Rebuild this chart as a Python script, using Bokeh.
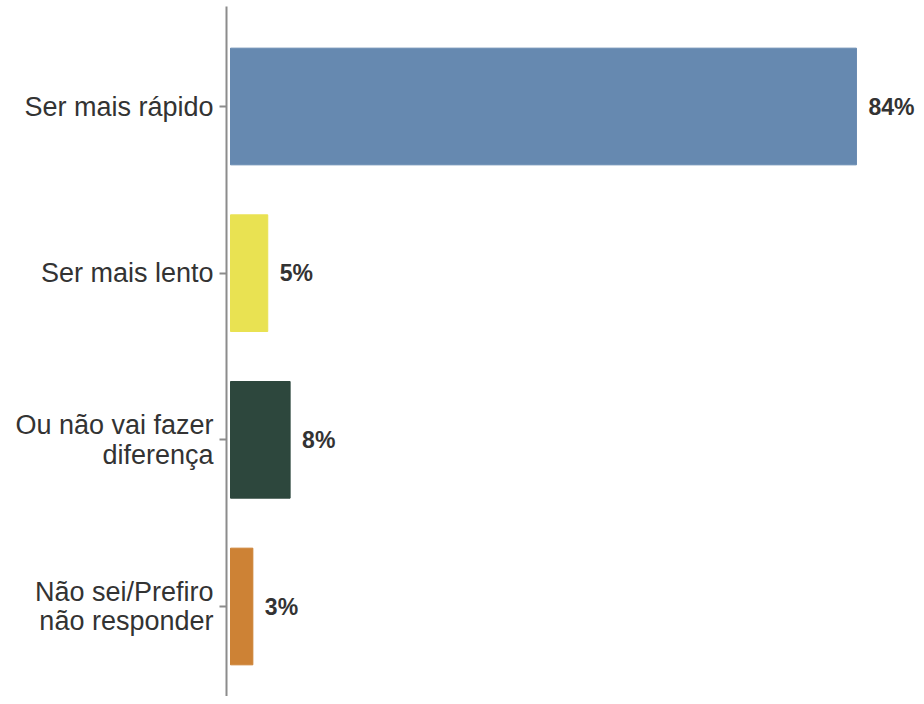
from bokeh.plotting import figure
from bokeh.models import ColumnDataSource, FixedTicker, Range1d, LabelSet
from bokeh.core.properties import value
from bokeh.embed import file_html
from bokeh.resources import INLINE

categories = ["Ser mais rápido", "Ser mais lento", "Ou não vai fazer diferença", "Não sei/Prefiro não responder"]
tick_labels = ["Ser mais rápido", "Ser mais lento", "Ou não vai fazer\ndiferença", "Não sei/Prefiro\nnão responder"]
values = [84, 5, 8, 3]
colors = ["#6689B0", "#E9E252", "#2D473D", "#CD8235"]

n = len(categories)
ypos = [n - 1 - i for i in range(n)]
src = ColumnDataSource(dict(y=ypos, v=values, c=colors, lab=[f"{v}%" for v in values]))

p = figure(width=916, height=696, output_backend="svg", toolbar_location=None,
           x_range=Range1d(-0.537, 92.06), y_range=Range1d(-0.54, 3.6),
           min_border_left=226, min_border_top=6, min_border_bottom=0, min_border_right=0)

p.hbar(y="y", left=0, right="v", height=0.7, color="c", source=src)
p.add_layout(LabelSet(x="v", y="y", text="lab", source=src, x_offset=12, text_baseline="middle",
                      text_font=value("Liberation Sans"), text_font_style="bold", text_font_size="23px",
                      text_color="#333333"))

p.xaxis.visible = False
p.xgrid.visible = False
p.ygrid.visible = False
p.outline_line_color = None

ax = p.yaxis[0]
ax.ticker = FixedTicker(ticks=ypos)
ax.major_label_overrides = {y: t for y, t in zip(ypos, tick_labels)}
ax.major_label_text_font = "Liberation Sans"
ax.major_label_text_font_size = "27px"
ax.major_label_text_line_height = 0.98
ax.major_label_text_color = "#333333"
ax.major_label_standoff = 6
ax.major_label_text_align = "right"
ax.axis_line_color = "#8C8C8C"
ax.axis_line_width = 2
ax.major_tick_line_color = "#8C8C8C"
ax.major_tick_line_width = 2
ax.major_tick_out = 7
ax.major_tick_in = 0
ax.minor_tick_line_color = None

open("out.html", "w").write(file_html(p, INLINE))
